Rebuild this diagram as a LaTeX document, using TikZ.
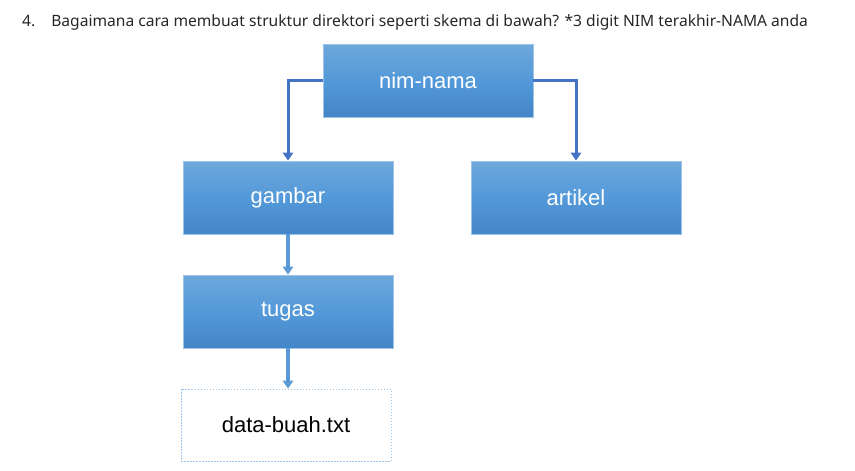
\documentclass[tikz,border=0pt]{standalone}
\usepackage{fontspec}
\setmainfont{Liberation Sans}
\newfontfamily\titlefont{Noto Sans}
\usetikzlibrary{arrows.meta}
\definecolor{boxtop}{HTML}{6EA7DB}
\definecolor{boxmid}{HTML}{5399D9}
\definecolor{boxbot}{HTML}{4485C7}
\definecolor{boxedge}{HTML}{9DC3E6}
\definecolor{darkline}{HTML}{4472C4}
\definecolor{lightline}{HTML}{5B9BD5}
\begin{document}
\begin{tikzpicture}[x=1pt,y=-1pt,
  folder/.style={minimum width=210pt,minimum height=73pt,inner sep=0pt,
    top color=boxtop,bottom color=boxbot,middle color=boxmid,
    draw=boxedge,line width=0.6pt,text=white,font=\fontsize{22}{26}\selectfont},
  filebox/.style={minimum width=210pt,minimum height=72pt,inner sep=0pt,
    draw=boxedge,dashed,dash pattern=on 1.5pt off 1.5pt,line width=0.6pt,
    text=black,font=\fontsize{22}{26}\selectfont},
  darkarrow/.style={draw=darkline,line width=3pt,-{Triangle[width=10pt,length=8pt]}},
  lightarrow/.style={draw=lightline,line width=3.4pt,-{Triangle[width=10pt,length=8pt]}}]
\useasboundingbox (0,0) rectangle (855,471);
\node[anchor=base west,font=\titlefont\fontsize{15.6}{18}\selectfont,text=black!85,inner sep=0pt] (title) at (22,27)
  {4.\hspace{16pt}Bagaimana cara membuat struktur direktori seperti skema di bawah? *3 digit NIM terakhir-NAMA anda};
\node[folder] (root) at (428,80.5) {\raisebox{-2pt}{nim-nama}};
\node[folder] (gambar) at (288,197.5) {\raisebox{-2pt}{gambar}};
\node[folder] (artikel) at (576,197.5) {\raisebox{-2pt}{artikel}};
\node[folder] (tugas) at (288,311.5) {\raisebox{-2pt}{tugas}};
\node[filebox] (data) at (286,425) {\raisebox{-2pt}{data-buah.txt}};
\draw[darkarrow] (root.west) -| (gambar.north);
\draw[darkarrow] (root.east) -| (artikel.north);
\draw[lightarrow] (gambar.south) -- (tugas.north);
\draw[lightarrow] (tugas.south) -- (tugas.south |- data.north);
\end{tikzpicture}
\end{document}
